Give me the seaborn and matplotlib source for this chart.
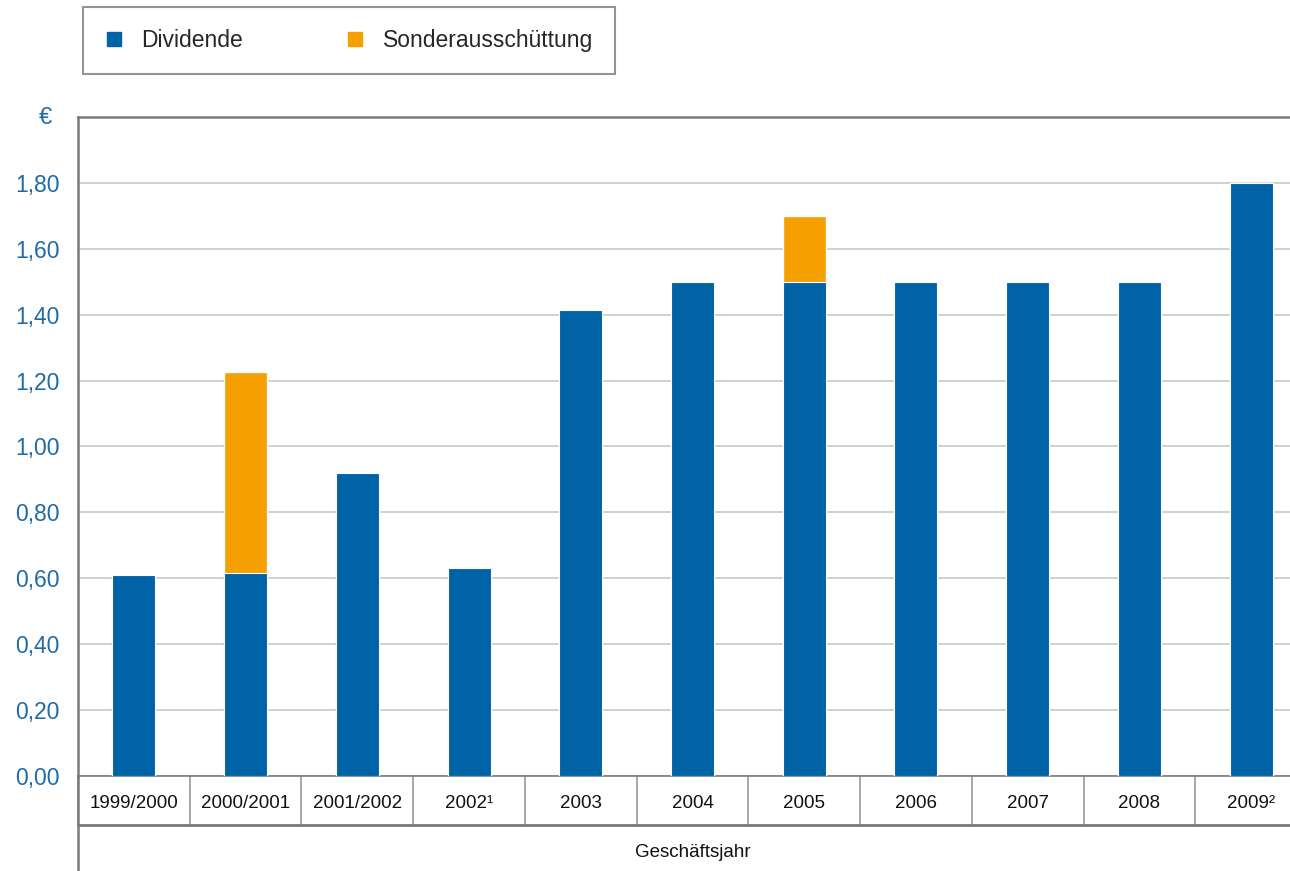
import matplotlib
matplotlib.use("Agg")
import matplotlib.pyplot as plt
from matplotlib.lines import Line2D
import matplotlib.transforms as mtransforms
import pandas as pd
import seaborn as sns

# chart data
jahre = ["1999/2000", "2000/2001", "2001/2002", "2002¹", "2003", "2004",
         "2005", "2006", "2007", "2008", "2009²"]
dividende = [0.61, 0.615, 0.92, 0.63, 1.415, 1.50, 1.50, 1.50, 1.50, 1.50, 1.80]
sonder = [0.0, 0.61, 0.0, 0.0, 0.0, 0.0, 0.20, 0.0, 0.0, 0.0, 0.0]
y_ticks = [0.0, 0.2, 0.4, 0.6, 0.8, 1.0, 1.2, 1.4, 1.6, 1.8]

BLUE = "#0063a6"
ORANGE = "#f59f00"
TICK_BLUE = "#1f6ba8"
GRID = "#c8c8c8"
FRAME = "#7a7a7a"

df = pd.DataFrame({"jahr": jahre, "dividende": dividende, "sonder": sonder})
df["gesamt"] = df["dividende"] + df["sonder"]

sns.set_style("white")
plt.rcParams["font.family"] = ["Liberation Sans", "DejaVu Sans"]

fig = plt.figure(figsize=(12.9, 8.71), dpi=100)
ax = fig.add_axes([0.0605, 0.1091, 0.9527, 0.7566])

# stacked bars: total in orange, dividend drawn over it
sns.barplot(data=df, x="jahr", y="gesamt", color=ORANGE, width=0.385,
            saturation=1, ax=ax, zorder=3)
sns.barplot(data=df, x="jahr", y="dividende", color=BLUE, width=0.385,
            saturation=1, edgecolor="white", linewidth=0.8, ax=ax, zorder=4)

ax.set_ylim(0, 2.0)
ax.set_xlim(-0.5, len(jahre) - 0.5)
ax.set_yticks(y_ticks)
ax.set_yticklabels([f"{v:.2f}".replace(".", ",") for v in y_ticks])
ax.yaxis.grid(True, color=GRID, linewidth=1.2, zorder=0)
ax.set_axisbelow(True)
ax.tick_params(axis="y", length=0, pad=13, labelsize=16.5, labelcolor=TICK_BLUE)
ax.tick_params(axis="x", length=0, pad=14, labelsize=13.5, labelcolor="#111111")
ax.set_xlabel("")
ax.set_ylabel("")

for side in ["top", "left"]:
    ax.spines[side].set_color(FRAME)
    ax.spines[side].set_linewidth(1.8)
ax.spines["right"].set_visible(False)
ax.spines["bottom"].set_color(FRAME)
ax.spines["bottom"].set_linewidth(1.2)

# table below the axis
trans = mtransforms.blended_transform_factory(ax.transData, ax.transAxes)
row_bottom = -49 / 659
for i in range(len(jahre) + 1):
    ax.add_line(Line2D([i - 0.5, i - 0.5], [0, row_bottom], transform=trans,
                       color="#9a9a9a", linewidth=1.2, clip_on=False))
ax.add_line(Line2D([0, 1], [row_bottom, row_bottom], transform=ax.transAxes,
                   color=FRAME, linewidth=2, clip_on=False))
ax.add_line(Line2D([0, 0], [0, -0.16], transform=ax.transAxes,
                   color=FRAME, linewidth=1.8, clip_on=False))
ax.text(0.5, -77 / 659, "Geschäftsjahr", transform=ax.transAxes,
        ha="center", va="center", fontsize=13.5, color="#111111")

# euro unit label
fig.text(45 / 1290, 1 - 118 / 871, "€", ha="center", va="center",
         fontsize=17, color=TICK_BLUE)

handles = [
    Line2D([], [], marker="s", linestyle="", markersize=10, color=BLUE,
           label="Dividende"),
    Line2D([], [], marker="s", linestyle="", markersize=10, color=ORANGE,
           label="Sonderausschüttung"),
]
leg = fig.legend(handles=handles, loc="upper left", ncol=2,
                 bbox_to_anchor=(83 / 1290, 1 - 7 / 871), fontsize=16.5,
                 frameon=True, fancybox=False, edgecolor=FRAME,
                 handletextpad=0.8, columnspacing=4.5, borderpad=0.95,
                 borderaxespad=0, handlelength=0.8)
leg.get_frame().set_linewidth(1.5)

fig.savefig("out.png", dpi=100)
plt.close(fig)
